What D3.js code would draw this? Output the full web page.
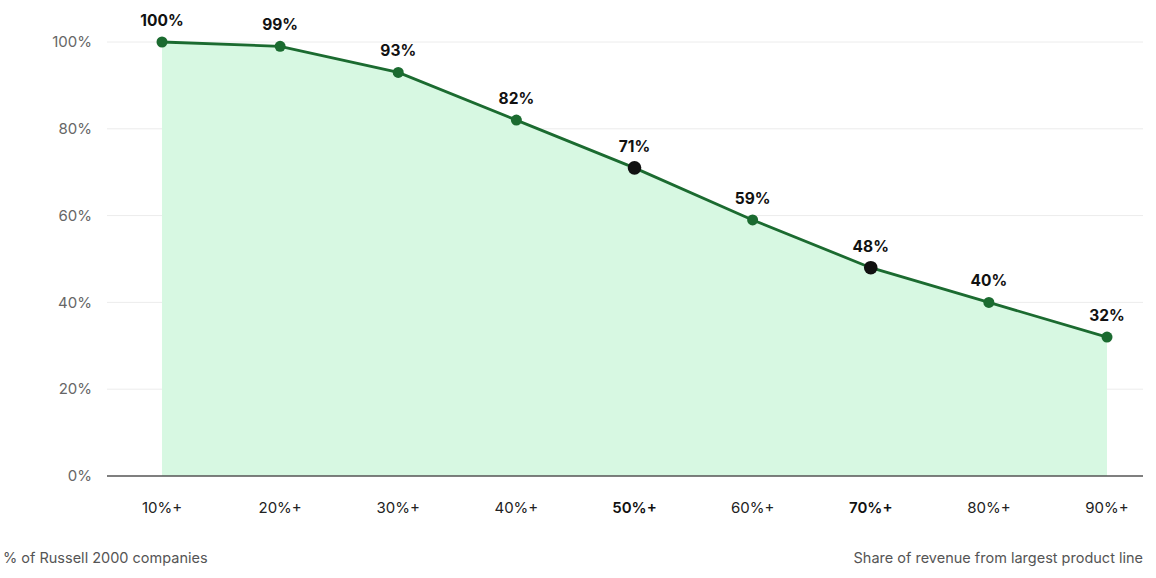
<!DOCTYPE html>
<html lang="en">
<head>
  <meta charset="UTF-8" />
  <title>Russell 2000 revenue concentration</title>
  <script src="https://d3js.org/d3.v7.min.js"></script>
  <style>
    body { margin: 0; background: #fff; font-family: Inter, 'Noto Sans', sans-serif; }
    .grid line { stroke: #ececec; stroke-width: 1; }
    .ytick { fill: #666; font-size: 15px; }
    .xtick { fill: #222; font-size: 15px; }
    .xtick.hl { font-weight: 600; fill: #111; }
    .val { fill: #111; font-size: 15.5px; font-weight: 700; }
    .note { fill: #555; font-size: 14.5px; }
  </style>
</head>
<body>
  <svg id="chart" width="1156" height="578"></svg>
  <script>
    // data
    const categories = ["10%+", "20%+", "30%+", "40%+", "50%+", "60%+", "70%+", "80%+", "90%+"];
    const values = [100, 99, 93, 82, 71, 59, 48, 40, 32];
    const highlighted = ["50%+", "70%+"];
    const yTicks = [0, 20, 40, 60, 80, 100];

    const svg = d3.select("#chart");
    const plotLeft = 107, plotRight = 1143, plotTop = 42, plotBottom = 476;

    const x = d3.scalePoint().domain(categories).range([162, 1107]);
    const y = d3.scaleLinear().domain([0, 100]).range([plotBottom, plotTop]);

    const data = categories.map((c, i) => ({ cat: c, v: values[i], hl: highlighted.includes(c) }));

    // gridlines
    svg.append("g").attr("class", "grid")
      .selectAll("line")
      .data(yTicks.filter(t => t > 0))
      .enter().append("line")
      .attr("x1", plotLeft).attr("x2", plotRight)
      .attr("y1", d => y(d)).attr("y2", d => y(d));

    // y labels
    svg.selectAll(".ytick")
      .data(yTicks)
      .enter().append("text")
      .attr("class", "ytick")
      .attr("x", 92)
      .attr("y", d => y(d))
      .attr("dy", "0.35em")
      .attr("text-anchor", "end")
      .text(d => d + "%");

    // area
    const area = d3.area()
      .x(d => x(d.cat))
      .y0(y(0))
      .y1(d => y(d.v));
    svg.append("path")
      .datum(data)
      .attr("d", area)
      .attr("fill", "#d7f8e2");

    // baseline
    svg.append("line")
      .attr("x1", plotLeft).attr("x2", plotRight)
      .attr("y1", y(0)).attr("y2", y(0))
      .attr("stroke", "#555")
      .attr("stroke-width", 1.6);

    // line
    const line = d3.line()
      .x(d => x(d.cat))
      .y(d => y(d.v));
    svg.append("path")
      .datum(data)
      .attr("d", line)
      .attr("fill", "none")
      .attr("stroke", "#1b6b30")
      .attr("stroke-width", 2.8);

    // points
    svg.selectAll(".dot")
      .data(data)
      .enter().append("circle")
      .attr("cx", d => x(d.cat))
      .attr("cy", d => y(d.v))
      .attr("r", d => d.hl ? 6.8 : 5.5)
      .attr("fill", d => d.hl ? "#111" : "#1b6b30");

    // value labels
    svg.selectAll(".val")
      .data(data)
      .enter().append("text")
      .attr("class", "val")
      .attr("x", d => x(d.cat))
      .attr("y", d => y(d.v) - 16)
      .attr("text-anchor", "middle")
      .text(d => d.v + "%");

    // x labels
    svg.selectAll(".xtick")
      .data(data)
      .enter().append("text")
      .attr("class", d => d.hl ? "xtick hl" : "xtick")
      .attr("x", d => x(d.cat))
      .attr("y", 513)
      .attr("text-anchor", "middle")
      .text(d => d.cat);

    // footnotes
    svg.append("text")
      .attr("class", "note")
      .attr("x", 3).attr("y", 563)
      .text("% of Russell 2000 companies");
    svg.append("text")
      .attr("class", "note")
      .attr("x", 1143).attr("y", 563)
      .attr("text-anchor", "end")
      .text("Share of revenue from largest product line");
  </script>
</body>
</html>
